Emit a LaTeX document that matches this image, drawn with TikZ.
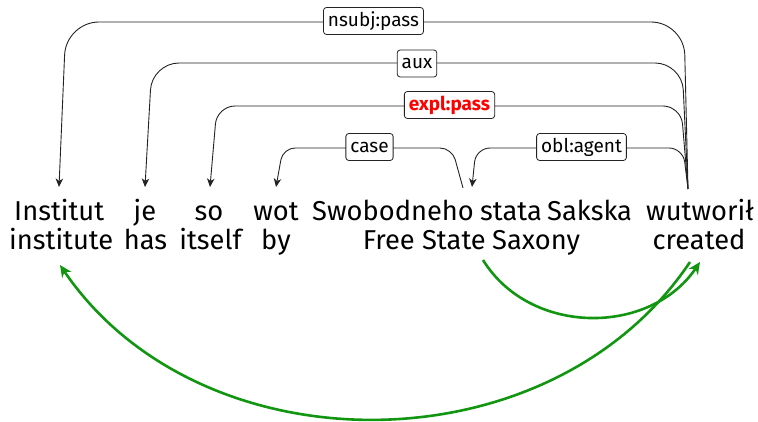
\documentclass[tikz,border=0pt]{standalone}
\usepackage{fontspec}
\setmainfont{Fira Sans}
\usetikzlibrary{arrows.meta}
\definecolor{algn}{RGB}{18,150,18}
\definecolor{arcgray}{RGB}{35,35,35}
\begin{document}
\begin{tikzpicture}[x=1pt,y=-1pt,
  word/.style={anchor=base, inner sep=0pt, font=\fontsize{27.3}{27.3}\selectfont},
  rel/.style={draw=arcgray, line width=0.8pt, fill=white, rounded corners=3pt,
    inner xsep=4.5pt, inner ysep=0pt, minimum height=27pt, font=\fontsize{19}{19}\selectfont},
  deparc/.style={draw=arcgray, line width=0.9pt, -{Stealth[length=8.5pt,width=7.5pt,inset=2.5pt]}},
  alignarc/.style={draw=algn, line width=2.6pt, -{Stealth[length=12pt,width=11pt]}}
]
\useasboundingbox (0,0) rectangle (758,422);

% source sentence
\node[word, anchor=base west] (w1) at (14,221) {Institut};
\node[word] (w2) at (145,221) {je};
\node[word] (w3) at (209,221) {so};
\node[word] (w4) at (276,221) {wot};
\node[word, anchor=base west] (w5) at (312,221) {Swobodneho};
\node[word, anchor=base west] (w6) at (480,221) {stata};
\node[word, anchor=base west] (w7) at (547,221) {Sakska};
\node[word, anchor=base west] (w8) at (646,221) {wutworił};

% glosses
\node[word, anchor=base west] (g1) at (9,250) {institute};
\node[word] (g2) at (145.5,250) {has};
\node[word] (g3) at (210.5,250) {itself};
\node[word] (g4) at (276,250) {by};
\node[word, anchor=base east] (g5) at (486,250) {Free State};
\node[word, anchor=base west] (g6) at (492,250) {Saxony};
\node[word] (g7) at (699,250) {created};

% arc end points
\coordinate (hd) at (688,189);
\coordinate (d1) at (59,187);
\coordinate (d2) at (145,187);
\coordinate (d3) at (210,187);
\coordinate (d4) at (276,187);
\coordinate (h5) at (463,188);
\coordinate (d5) at (472,187);

% dependency arcs
\draw[deparc, rounded corners=33pt] (hd) -- (684,22) -- (66,22) -- (d1);
\draw[deparc, rounded corners=27pt] (hd) -- (682,63) -- (152,63) -- (d2);
\draw[deparc, rounded corners=18pt] (hd) -- (681,106) -- (217,106) -- (d3);
\draw[deparc, rounded corners=12pt] (h5) -- (452,148) -- (283,148) -- (d4);
\draw[deparc, rounded corners=14pt] (hd) -- (683,148) -- (476,148) -- (d5);

% relation labels
\node[rel] (l1) at (373.5,21) {nsubj:pass};
\node[rel] (l2) at (417,63.5) {aux};
\node[rel, text=red, font=\fontsize{19}{19}\selectfont\bfseries] (l3) at (449.5,105) {expl:pass};
\node[rel] (l4) at (369.5,147) {case};
\node[rel] (l5) at (581.5,147) {obl:agent};

% alignment arcs
\coordinate (a1) at (690,262);
\coordinate (b1) at (60,265);
\coordinate (a2) at (483,260);
\coordinate (b2) at (700,262);
\draw[alignarc] (a1) .. controls (550,471) and (200,471) .. (b1);
\draw[alignarc] (a2) .. controls (530,336) and (650,336) .. (b2);
\end{tikzpicture}
\end{document}
